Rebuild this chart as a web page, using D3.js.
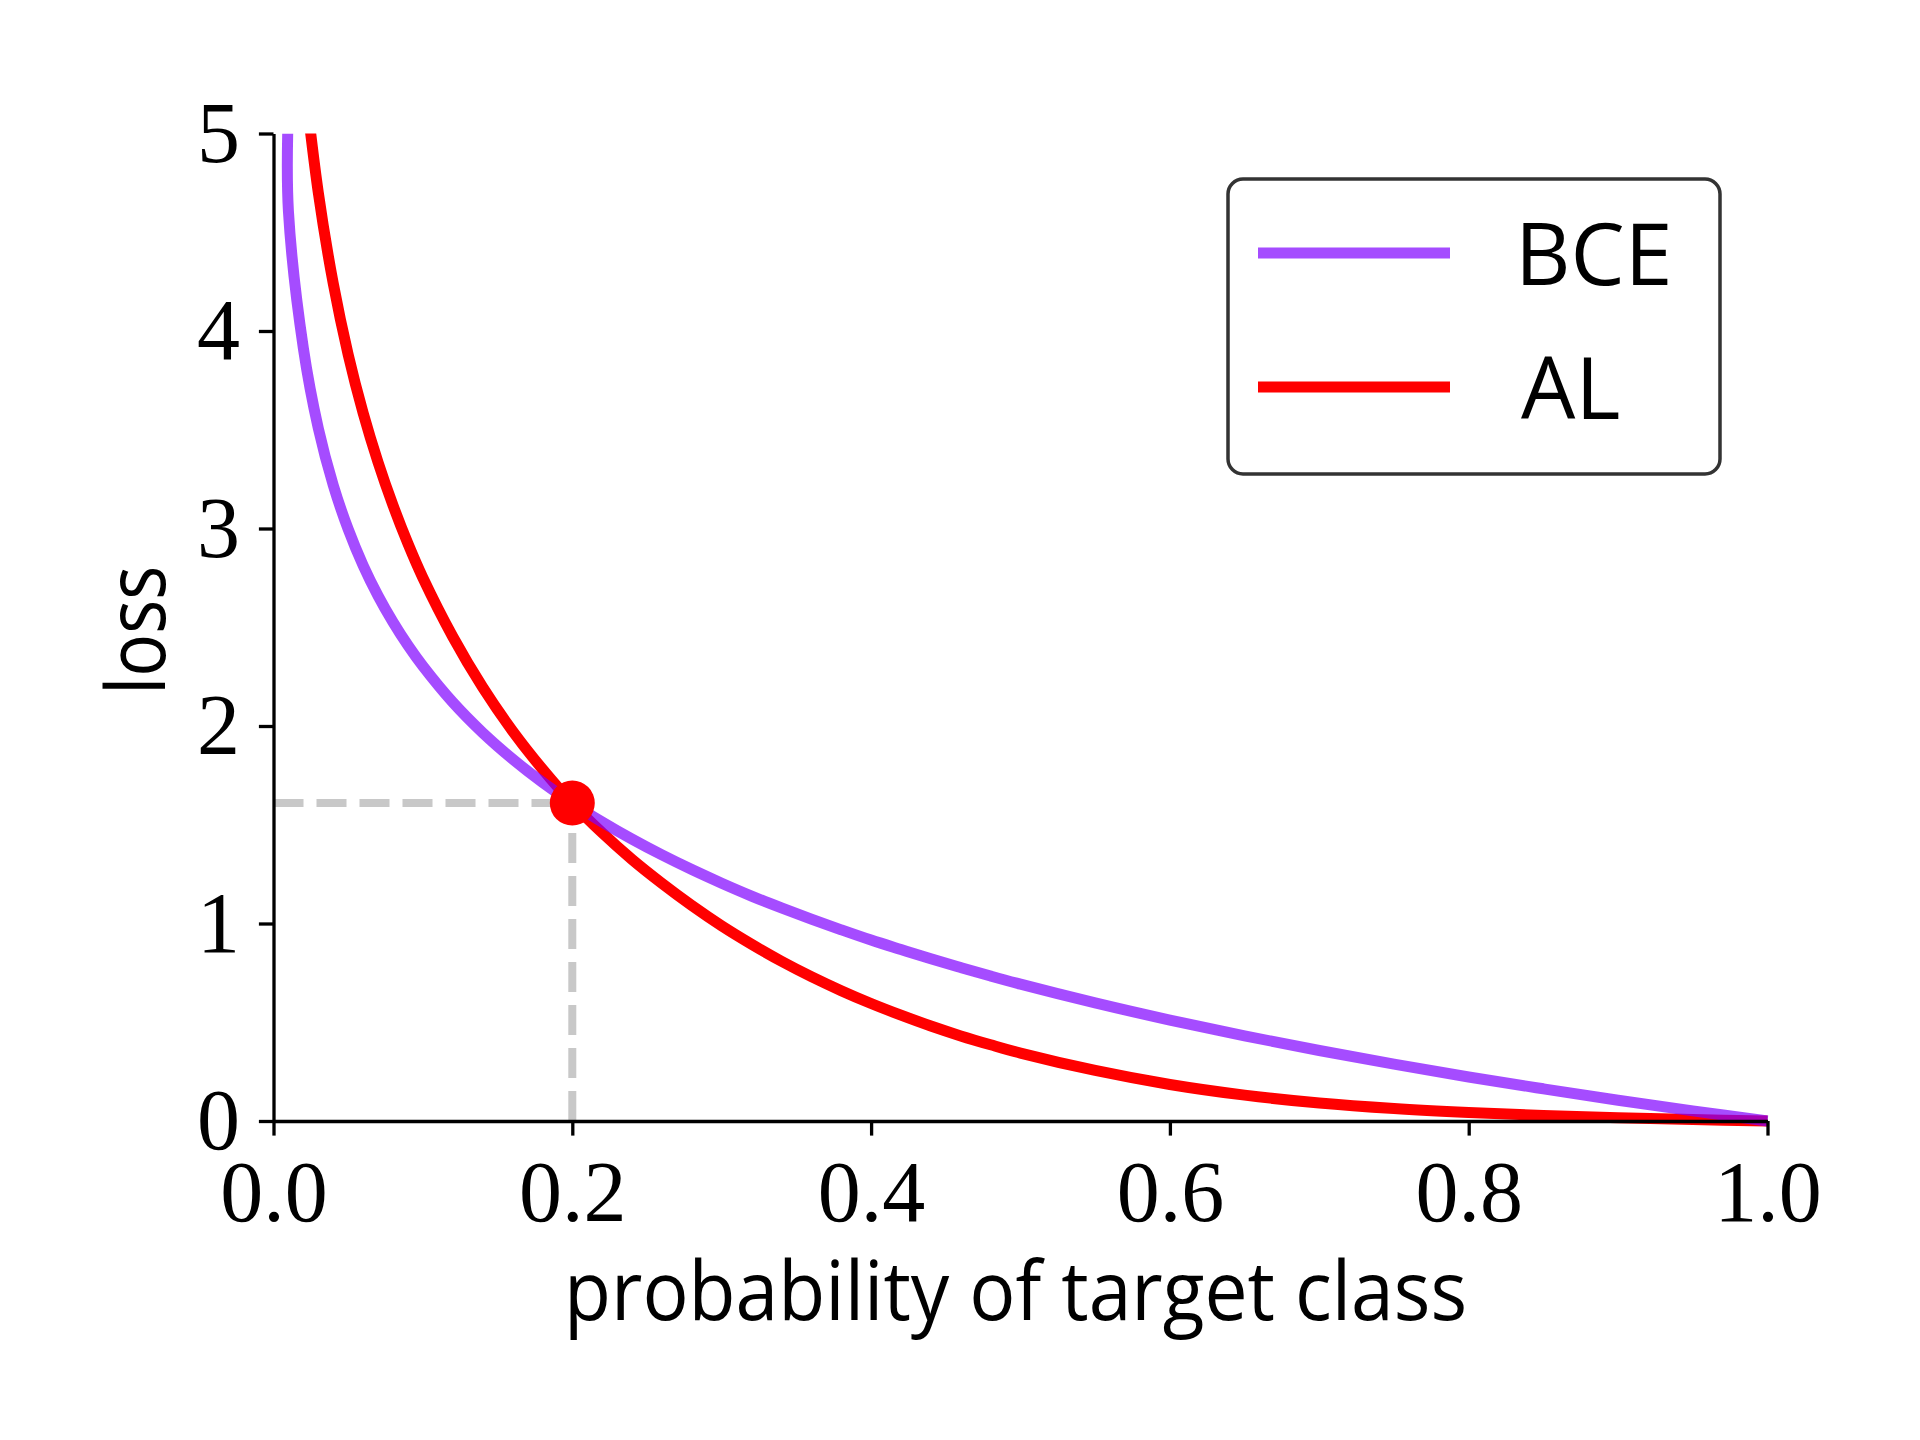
<!DOCTYPE html>
<html lang="en">
<head>
    <meta charset="UTF-8">
    <title>BCE vs AL loss</title>
    <script src="https://d3js.org/d3.v7.min.js"></script>
    <style>
        body { margin: 0; background: #fff; }
        svg { display: block; }
    </style>
</head>
<body>
    <svg width="1920" height="1440"></svg>

    <script>
        // Probability values where both curves were read
        const probs = [0.0095, 0.01, 0.02, 0.03, 0.04, 0.05, 0.06, 0.07, 0.08, 0.09, 0.10,
                       0.12, 0.14, 0.16, 0.18, 0.20, 0.22, 0.24, 0.26, 0.28, 0.30,
                       0.32, 0.34, 0.36, 0.38, 0.40, 0.42, 0.44, 0.46, 0.48, 0.50,
                       0.55, 0.60, 0.65, 0.70, 0.75, 0.80, 0.85, 0.90, 0.95, 1.00];

        // BCE loss
        const bceLoss = [5.000, 4.605, 3.912, 3.507, 3.219, 2.996, 2.813, 2.659, 2.526, 2.408, 2.303,
                         2.120, 1.966, 1.833, 1.715, 1.609, 1.514, 1.427, 1.347, 1.273, 1.204,
                         1.139, 1.079, 1.022, 0.968, 0.916, 0.868, 0.821, 0.777, 0.734, 0.693,
                         0.598, 0.511, 0.431, 0.357, 0.288, 0.223, 0.163, 0.105, 0.051, 0.000];

        // AL loss (the 0.02 point sits above the clip)
        const alLoss = [null, null, 5.32, 4.70, 4.24, 3.88, 3.585, 3.335, 3.117, 2.923, 2.750,
                        2.452, 2.196, 1.975, 1.782, 1.609, 1.459, 1.324, 1.203, 1.091, 0.988,
                        0.895, 0.809, 0.731, 0.660, 0.595, 0.536, 0.481, 0.431, 0.386, 0.344,
                        0.256, 0.185, 0.131, 0.091, 0.063, 0.043, 0.028, 0.017, 0.007, 0.000];

        const xTicks = [0, 0.2, 0.4, 0.6, 0.8, 1.0];
        const yTicks = [0, 1, 2, 3, 4, 5];

        const crossP = 0.2;
        const crossLoss = 1.61;

        const seriesNames = ["BCE", "AL"];
        const seriesColors = ["#7f00ff", "#ff0000"];
        const seriesOpacity = [0.7, 1];

        const svg = d3.select("svg");

        const x = d3.scaleLinear().domain([0, 1]).range([273.5, 1767.5]);
        const y = d3.scaleLinear().domain([0, 5]).range([1121, 133.5]);

        const serif = "'Liberation Serif', 'DejaVu Serif', serif";
        const sans = "'Open Sans', 'Noto Sans', sans-serif";

        // clip so the curves stop at loss = 5
        svg.append("defs").append("clipPath").attr("id", "plot-clip")
            .append("rect")
            .attr("x", x(0)).attr("y", y(5))
            .attr("width", x(1) - x(0) + 6).attr("height", y(0) - y(5) + 6);

        // dashed guides to the crossing point
        svg.append("line")
            .attr("x1", x(0)).attr("y1", y(crossLoss))
            .attr("x2", x(crossP)).attr("y2", y(crossLoss))
            .attr("stroke", "#c8c8c8").attr("stroke-width", 8)
            .attr("stroke-dasharray", "30,13");
        svg.append("line")
            .attr("x1", x(crossP)).attr("y1", y(0))
            .attr("x2", x(crossP)).attr("y2", y(crossLoss))
            .attr("stroke", "#c8c8c8").attr("stroke-width", 8)
            .attr("stroke-dasharray", "30,13");

        const line = d3.line()
            .defined(d => d[1] !== null)
            .curve(d3.curveCatmullRom.alpha(0.5))
            .x(d => x(d[0]))
            .y(d => y(d[1]));

        const plot = svg.append("g").attr("clip-path", "url(#plot-clip)");

        // red first, purple on top with transparency
        plot.append("path")
            .datum(probs.map((p, i) => [p, alLoss[i]]))
            .attr("d", line)
            .attr("fill", "none")
            .attr("stroke", seriesColors[1])
            .attr("stroke-width", 11)
            .attr("stroke-linejoin", "round");

        plot.append("path")
            .datum(probs.map((p, i) => [p, bceLoss[i]]))
            .attr("d", line)
            .attr("fill", "none")
            .attr("stroke", seriesColors[0])
            .attr("stroke-opacity", seriesOpacity[0])
            .attr("stroke-width", 11)
            .attr("stroke-linejoin", "round");

        // axes
        const xAxis = d3.axisBottom(x).tickValues(xTicks).tickFormat(d3.format(".1f"))
            .tickSize(14.6).tickSizeOuter(0).tickPadding(24);
        const yAxis = d3.axisLeft(y).tickValues(yTicks).tickFormat(d3.format("d"))
            .tickSize(14.6).tickSizeOuter(0).tickPadding(19);

        const gx = svg.append("g").attr("transform", `translate(0,${y(0)})`).call(xAxis);
        const gy = svg.append("g").attr("transform", `translate(${x(0)},0)`).call(yAxis);

        [gx, gy].forEach(g => {
            g.selectAll(".domain").attr("stroke", "#000").attr("stroke-width", 3.3);
            g.selectAll(".tick line").attr("stroke", "#000").attr("stroke-width", 3.3);
            g.selectAll(".tick text")
                .attr("fill", "#000")
                .style("font-family", serif)
                .style("font-size", "86px");
        });

        // crossing point marker
        svg.append("circle")
            .attr("cx", x(crossP))
            .attr("cy", y(crossLoss))
            .attr("r", 22.5)
            .attr("fill", "#ff0000");

        // axis labels
        svg.append("text")
            .attr("x", (x(0) + x(1)) / 2 - 5)
            .attr("y", 1320)
            .attr("text-anchor", "middle")
            .attr("textLength", 903)
            .attr("lengthAdjust", "spacingAndGlyphs")
            .style("font-family", sans)
            .style("font-size", "83px")
            .text("probability of target class");

        svg.append("text")
            .attr("transform", `translate(165,${(y(0) + y(5)) / 2 + 3}) rotate(-90)`)
            .attr("text-anchor", "middle")
            .attr("textLength", 129)
            .attr("lengthAdjust", "spacingAndGlyphs")
            .style("font-family", sans)
            .style("font-size", "83px")
            .text("loss");

        // legend
        const legend = svg.append("g");
        legend.append("rect")
            .attr("x", 1228).attr("y", 179)
            .attr("width", 492).attr("height", 295)
            .attr("rx", 15).attr("ry", 15)
            .attr("fill", "#fff")
            .attr("stroke", "#333")
            .attr("stroke-width", 3.5);

        const rowY = [253, 387];
        const textX = [1515, 1521];
        seriesNames.forEach((name, i) => {
            legend.append("line")
                .attr("x1", 1258).attr("x2", 1450)
                .attr("y1", rowY[i]).attr("y2", rowY[i])
                .attr("stroke", seriesColors[i])
                .attr("stroke-opacity", seriesOpacity[i])
                .attr("stroke-width", 11);
            legend.append("text")
                .attr("x", textX[i])
                .attr("y", rowY[i] + 32)
                .style("font-family", sans)
                .style("font-size", "86px")
                .text(name);
        });
    </script>
</body>
</html>
